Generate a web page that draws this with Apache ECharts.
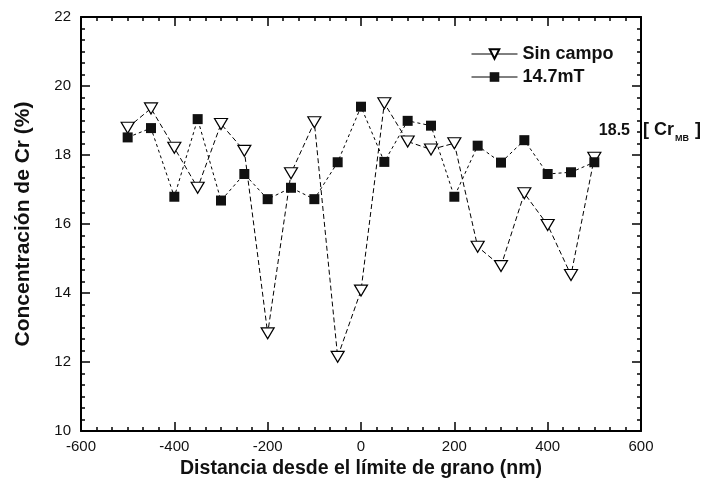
<!DOCTYPE html>
<html>
<head>
<meta charset="utf-8">
<script src="https://cdn.jsdelivr.net/npm/echarts@6/dist/echarts.min.js"></script>
<style>
  html, body { margin: 0; padding: 0; background: #fff; }
  #chart { width: 712px; height: 493px; }
</style>
</head>
<body>
<div id="chart"></div>
<script>
// Distance from the grain boundary (nm)
const distances = [-500, -450, -400, -350, -300, -250, -200, -150, -100, -50, 0,
                   50, 100, 150, 200, 250, 300, 350, 400, 450, 500];
// Cr concentration (%) without field
const sinCampo = [18.79, 19.35, 18.21, 17.05, 18.90, 18.12, 12.83, 17.47, 18.95, 12.15, 14.07,
                  19.50, 18.39, 18.16, 18.34, 15.34, 14.78, 16.89, 15.97, 14.52, 17.92];
// Cr concentration (%) with a 14.7 mT field
const campo147 = [18.51, 18.78, 16.79, 19.04, 16.68, 17.45, 16.72, 17.05, 16.72, 17.79, 19.40,
                  17.80, 18.99, 18.85, 16.79, 18.27, 17.78, 18.43, 17.45, 17.50, 17.79];
const seriesNames = ['Sin campo', '14.7mT'];
const xTicks = [-600, -400, -200, 0, 200, 400, 600];
const yTicks = [10, 12, 14, 16, 18, 20, 22];
const crMB = 18.5;

const pairs = vals => distances.map((d, i) => [d, vals[i]]);
const font = '"Liberation Sans", Arial, sans-serif';

const chart = echarts.init(document.getElementById('chart'));

// Shared frame styling: ticks point into the plot on all four sides
const baseAxis = {
  axisLine: { show: true, onZero: false, lineStyle: { color: '#000', width: 2 } },
  axisTick: { show: true, inside: true, length: 9, lineStyle: { color: '#000', width: 1.5 } },
  minorTick: { show: true, splitNumber: 6, length: 4, lineStyle: { color: '#000', width: 1.5 } },
  splitLine: { show: false },
  minorSplitLine: { show: false }
};

chart.setOption({
  animation: false,
  backgroundColor: '#fff',
  grid: { left: 81, right: 71, top: 17, bottom: 62 },
  legend: {
    orient: 'vertical',
    left: 466,
    top: 40,
    itemWidth: 46,
    itemHeight: 12,
    itemGap: 5,
    data: seriesNames,
    textStyle: { fontFamily: font, fontWeight: 'bold', fontSize: 18, color: '#111' },
    lineStyle: { type: 'solid', width: 1, color: '#000' }
  },
  xAxis: [
    Object.assign({}, baseAxis, {
      type: 'value', min: -600, max: 600, interval: 200, position: 'bottom',
      name: 'Distancia desde el límite de grano (nm)',
      nameLocation: 'middle', nameGap: 25,
      nameTextStyle: { fontFamily: font, fontWeight: 'bold', fontSize: 19.5, color: '#111' },
      axisLabel: {
        fontFamily: font, fontSize: 15, color: '#111', margin: 8,
        formatter: v => xTicks.includes(v) ? String(v) : ''
      }
    }),
    Object.assign({}, baseAxis, {
      type: 'value', min: -600, max: 600, interval: 200, position: 'top',
      axisLabel: { show: false }
    })
  ],
  yAxis: [
    Object.assign({}, baseAxis, {
      type: 'value', min: 10, max: 22, interval: 2, position: 'left',
      name: 'Concentración de Cr (%)',
      nameLocation: 'middle', nameGap: 47,
      nameTextStyle: { fontFamily: font, fontWeight: 'bold', fontSize: 21, color: '#111' },
      axisLabel: {
        fontFamily: font, fontSize: 15, color: '#111', margin: 10,
        formatter: v => yTicks.includes(v) ? String(v) : ''
      }
    }),
    Object.assign({}, baseAxis, {
      type: 'value', min: 10, max: 22, interval: 2, position: 'right',
      axisLabel: { show: false }
    })
  ],
  series: [
    {
      name: seriesNames[0],
      type: 'line',
      data: pairs(sinCampo),
      symbol: 'triangle',
      symbolRotate: 180,
      symbolSize: [13, 11],
      showAllSymbol: true,
      lineStyle: { color: '#000', width: 1, type: [5, 3] },
      itemStyle: { color: '#fff', borderColor: '#000', borderWidth: 1.2 },
      z: 3
    },
    {
      name: seriesNames[1],
      type: 'line',
      data: pairs(campo147),
      symbol: 'rect',
      symbolSize: 10,
      showAllSymbol: true,
      lineStyle: { color: '#000', width: 1, type: [3, 3] },
      itemStyle: { color: '#111', borderColor: '#111', borderWidth: 0 },
      z: 4
    }
  ]
});

// Reference level annotation for the Cr content of the base metal
const refPos = chart.convertToPixel({ xAxisIndex: 0, yAxisIndex: 0 }, [600, crMB]);
chart.setOption({
  graphic: [
    {
      type: 'text',
      right: 712 - refPos[0] + 11,
      top: refPos[1] - 15,
      style: {
        text: String(crMB),
        font: 'bold 16px ' + font,
        fill: '#111',
        textAlign: 'right'
      }
    },
    {
      type: 'text',
      left: refPos[0] + 2,
      top: refPos[1] - 17,
      style: {
        text: '{b|[ Cr}{s|MB}{b| ]}',
        rich: {
          b: { font: 'bold 18px ' + font, fill: '#111', verticalAlign: 'bottom' },
          s: { font: 'bold 9px ' + font, fill: '#111', verticalAlign: 'bottom', padding: [0, 1, -4, 1] }
        }
      }
    }
  ]
});
</script>
</body>
</html>
